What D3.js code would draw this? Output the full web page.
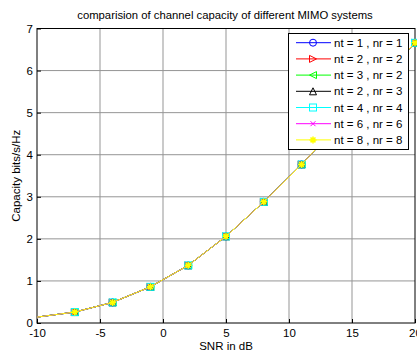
<!DOCTYPE html>
<html>
<head>
<meta charset="utf-8">
<script src="https://cdn.jsdelivr.net/npm/d3@7"></script>
<style>
  body { margin: 0; background: #fff; }
  text { font-family: "Liberation Sans", Arial, sans-serif; }
</style>
</head>
<body>
<div id="chart"></div>
<script>
// snr points (dB) and capacity
var snr = [-10, -7, -4, -1, 2, 5, 8, 11, 14, 17, 20];
var capacity = [0.14, 0.26, 0.49, 0.86, 1.37, 2.06, 2.88, 3.77, 4.73, 5.69, 6.66];
var seriesNames = ["nt = 1 , nr = 1", "nt = 2 , nr = 2", "nt = 3 , nr = 2", "nt = 2 , nr = 3",
                   "nt = 4 , nr = 4", "nt = 6 , nr = 6", "nt = 8 , nr = 8"];
var seriesColors = ["#0000ff", "#ff0000", "#00ff00", "#000000", "#00ffff", "#ff00ff", "#ffff00"];
var seriesMarkers = ["circle", "triR", "triL", "triU", "square", "x", "star"];
var xTicks = [-10, -5, 0, 5, 10, 15, 20];
var yTicks = [0, 1, 2, 3, 4, 5, 6, 7];

var W = 417, H = 351;
var padL = 37, padR = 415, padT = 28.5, padB = 323;

var svg = d3.select("#chart").append("svg")
  .attr("width", W).attr("height", H);

var x = d3.scaleLinear().domain([-10, 20]).range([padL, padR]);
var y = d3.scaleLinear().domain([0, 7]).range([padB, padT]);

// grid
svg.append("g").selectAll("line").data(xTicks.slice(1, -1)).enter().append("line")
  .attr("x1", function(d) { return x(d); }).attr("x2", function(d) { return x(d); })
  .attr("y1", padT).attr("y2", padB)
  .style("stroke", "#959595").style("stroke-width", 1);
svg.append("g").selectAll("line").data(yTicks.slice(1, -1)).enter().append("line")
  .attr("y1", function(d) { return y(d); }).attr("y2", function(d) { return y(d); })
  .attr("x1", padL).attr("x2", padR)
  .style("stroke", "#959595").style("stroke-width", 1);

// axes
var fmt = function(d) { return String(d); };
var xAxis = d3.axisBottom(x).tickValues(xTicks).tickFormat(fmt).tickSize(-4).tickPadding(6);
var yAxis = d3.axisLeft(y).tickValues(yTicks).tickFormat(fmt).tickSize(-4).tickPadding(4);
svg.append("g").attr("transform", "translate(0," + padB + ")").call(xAxis)
  .call(function(g) { g.selectAll("text").style("font-size", "11.5px").attr("fill", "#000"); });
svg.append("g").attr("transform", "translate(" + padL + ",0)").call(yAxis)
  .call(function(g) { g.selectAll("text").style("font-size", "11.5px").attr("fill", "#000"); });
svg.selectAll(".domain").remove();
svg.append("rect").attr("x", padL).attr("y", padT)
  .attr("width", padR - padL).attr("height", padB - padT)
  .style("fill", "none").style("stroke", "#000").style("stroke-width", 1);

// labels
svg.append("text").attr("x", 225).attr("y", 19).attr("text-anchor", "middle")
  .style("font-size", "11.3px").text("comparision of channel capacity of different MIMO systems");
svg.append("text").attr("x", 226).attr("y", 350).attr("text-anchor", "middle")
  .style("font-size", "11.5px").text("SNR in dB");
svg.append("text").attr("transform", "translate(20," + ((padT + padB) / 2) + ") rotate(-90)")
  .attr("text-anchor", "middle").style("font-size", "11.5px").text("Capacity bits/s/Hz");

function drawMarker(g, kind, cx, cy, color) {
  var s = 3.5;
  if (kind === "circle") {
    g.append("circle").attr("cx", cx).attr("cy", cy).attr("r", s)
      .style("fill", "none").style("stroke", color);
  } else if (kind === "square") {
    g.append("rect").attr("x", cx - s).attr("y", cy - s).attr("width", 2 * s).attr("height", 2 * s)
      .style("fill", "none").style("stroke", color);
  } else if (kind === "triR") {
    g.append("polygon").attr("points", [[cx - s, cy - s], [cx + s, cy], [cx - s, cy + s]].join(" "))
      .style("fill", "none").style("stroke", color);
  } else if (kind === "triL") {
    g.append("polygon").attr("points", [[cx + s, cy - s], [cx - s, cy], [cx + s, cy + s]].join(" "))
      .style("fill", "none").style("stroke", color);
  } else if (kind === "triU") {
    g.append("polygon").attr("points", [[cx, cy - s], [cx + s, cy + s], [cx - s, cy + s]].join(" "))
      .style("fill", "none").style("stroke", color);
  } else if (kind === "x") {
    var t = 2.5;
    g.append("path").attr("d", "M" + (cx - t) + "," + (cy - t) + "L" + (cx + t) + "," + (cy + t) +
      "M" + (cx - t) + "," + (cy + t) + "L" + (cx + t) + "," + (cy - t))
      .style("stroke", color);
  } else if (kind === "star") {
    var r = 3.5, d = "";
    for (var i = 0; i < 4; i++) {
      var a = i * Math.PI / 4;
      d += "M" + (cx - r * Math.cos(a)) + "," + (cy - r * Math.sin(a)) +
           "L" + (cx + r * Math.cos(a)) + "," + (cy + r * Math.sin(a));
    }
    g.append("path").attr("d", d).style("stroke", color).style("stroke-width", 1.5);
  }
}

var line = d3.line().x(function(d) { return x(d[0]); }).y(function(d) { return y(d[1]); });
var pts = snr.map(function(s, i) { return [s, capacity[i]]; });

seriesNames.forEach(function(name, k) {
  var g = svg.append("g");
  g.append("path").datum(pts).attr("d", line)
    .style("fill", "none").style("stroke", seriesColors[k]).style("stroke-width", 1);
  pts.slice(1).forEach(function(p) {
    drawMarker(g, seriesMarkers[k], x(p[0]), y(p[1]), seriesColors[k]);
  });
});

// legend
var lg = svg.append("g");
lg.append("rect").attr("x", 288.5).attr("y", 33.5).attr("width", 120).attr("height", 116)
  .style("fill", "#fff").style("stroke", "#000").style("stroke-width", 1);
seriesNames.forEach(function(name, k) {
  var ly = 42.7 + k * 16.2;
  lg.append("line").attr("x1", 296).attr("x2", 331).attr("y1", ly).attr("y2", ly)
    .style("stroke", seriesColors[k]).style("stroke-width", 1);
  drawMarker(lg, seriesMarkers[k], 313, ly, seriesColors[k]);
  lg.append("text").attr("x", 334).attr("y", ly + 4).style("font-size", "11.5px").text(name);
});
</script>
</body>
</html>
